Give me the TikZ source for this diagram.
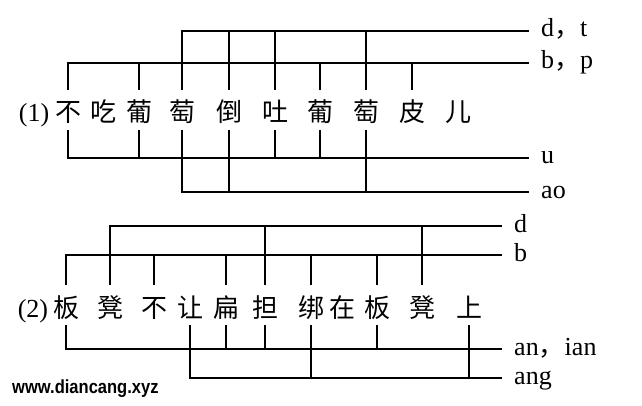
\documentclass[tikz,border=0pt]{standalone}
\usepackage{fontspec}
\setmainfont{Liberation Serif}
\newfontfamily\cjk{Noto Sans CJK SC}
\newfontfamily\wmfont[FakeStretch=0.87]{Liberation Sans}
\usetikzlibrary{shapes,arrows,calc}
\tikzstyle{line} = [draw, line width=1.1pt]
\tikzstyle{hanzi} = [inner sep=0pt, text height=32pt, text depth=8pt, anchor=base, font=\cjk\fontsize{26}{26}\selectfont]
\tikzstyle{num} = [inner sep=0pt, anchor=base, font=\fontsize{26}{26}\selectfont]
\tikzstyle{tag} = [inner xsep=12pt, inner ysep=0pt, text height=12pt, text depth=0pt, anchor=west, font=\fontsize{26}{26}\selectfont]

\begin{document}
\begin{tikzpicture}[x=1pt, y=-1pt]
        \useasboundingbox (0,0) rectangle (642,406);
        % (1)
        \node[num] (one) at (34,122) {(1)};
        \node[hanzi] (bu) at (68,122) {不};
        \node[hanzi] (chi) at (103,122) {吃};
        \node[hanzi] (pu) at (139,122) {葡};
        \node[hanzi] (tao) at (182,122) {萄};
        \node[hanzi] (dao) at (229,122) {倒};
        \node[hanzi] (tu) at (275,122) {吐};
        \node[hanzi] (pua) at (320,122) {葡};
        \node[hanzi] (taoa) at (366,122) {萄};
        \node[hanzi] (pi) at (412,122) {皮};
        \node[hanzi] (er) at (458,122) {儿};
        \node[tag] (dt) at (529,31) {d{\cjk ，}t};
        \node[tag] (bp) at (529,63) {b{\cjk ，}p};
        \node[tag] (u) at (529,158) {u};
        \node[tag] (ao) at (529,192) {ao};
        \path[line] (tao.north) |- (dt.west);
        \path[line] (dao.north) |- (dt.west);
        \path[line] (tu.north) |- (dt.west);
        \path[line] (taoa.north) |- (dt.west);
        \path[line] (bu.north) |- (bp.west);
        \path[line] (pu.north) |- (bp.west);
        \path[line] (pua.north) |- (bp.west);
        \path[line] (pi.north) |- (bp.west);
        \path[line] (bu.south) |- (u.west);
        \path[line] (pu.south) |- (u.west);
        \path[line] (tu.south) |- (u.west);
        \path[line] (pua.south) |- (u.west);
        \path[line] (tao.south) |- (ao.west);
        \path[line] (dao.south) |- (ao.west);
        \path[line] (taoa.south) |- (ao.west);
        % (2)
        \node[num] (two) at (33,317) {(2)};
        \node[hanzi] (ban) at (66,317) {板};
        \node[hanzi] (deng) at (110,317) {凳};
        \node[hanzi] (buu) at (154,317) {不};
        \node[hanzi] (rang) at (190,317) {让};
        \node[hanzi] (bian) at (226,317) {扁};
        \node[hanzi] (dan) at (265,317) {担};
        \node[hanzi] (bang) at (311,317) {绑};
        \node[hanzi] (zai) at (342,317) {在};
        \node[hanzi] (bana) at (377,317) {板};
        \node[hanzi] (denga) at (422,317) {凳};
        \node[hanzi] (shang) at (469,317) {上};
        \node[tag] (d) at (502,226) {d};
        \node[tag] (b) at (502,255) {b};
        \node[tag] (anian) at (502,349) {an{\cjk ，}ian};
        \node[tag] (ang) at (502,378) {ang};
        \path[line] (deng.north) |- (d.west);
        \path[line] (dan.north) |- (d.west);
        \path[line] (denga.north) |- (d.west);
        \path[line] (ban.north) |- (b.west);
        \path[line] (buu.north) |- (b.west);
        \path[line] (bian.north) |- (b.west);
        \path[line] (bang.north) |- (b.west);
        \path[line] (bana.north) |- (b.west);
        \path[line] (ban.south) |- (anian.west);
        \path[line] (bian.south) |- (anian.west);
        \path[line] (dan.south) |- (anian.west);
        \path[line] (bana.south) |- (anian.west);
        \path[line] (rang.south) |- (ang.west);
        \path[line] (bang.south) |- (ang.west);
        \path[line] (shang.south) |- (ang.west);
        \node[anchor=west, inner sep=0pt, font=\wmfont\bfseries\fontsize{19}{19}\selectfont] (site) at (12,389) {www.diancang.xyz};
    \end{tikzpicture}
\end{document}
